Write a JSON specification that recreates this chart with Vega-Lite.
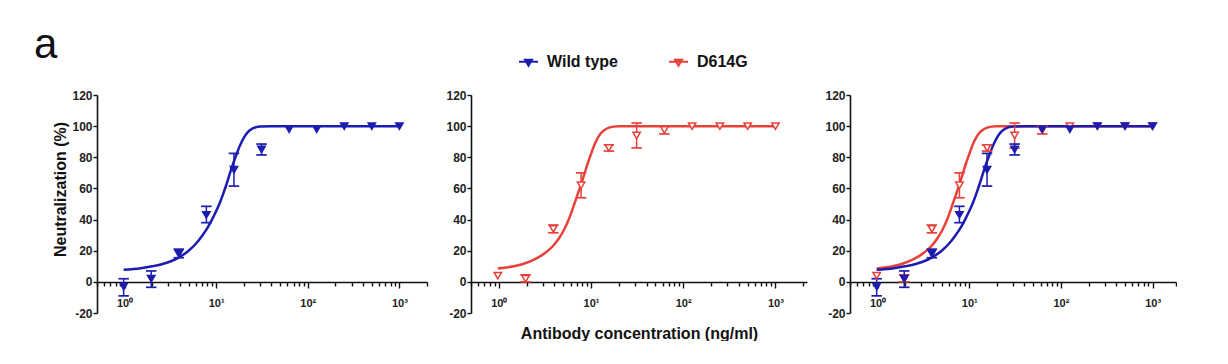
{
  "$schema": "https://vega.github.io/schema/vega-lite/v6.json",
  "padding": {"left": 33, "top": 24, "right": 0, "bottom": 0},
  "background": "white",
  "title": {"text": "a", "anchor": "start", "fontSize": 42, "fontWeight": "normal", "font": "Liberation Sans", "color": "#111", "dx": -19, "offset": -16},
  "datasets": {
    "wt": [
      {"variant": "Wild type", "conc": 0.977, "mean": -3, "lower": -9, "upper": 2},
      {"variant": "Wild type", "conc": 1.953, "mean": 2, "lower": -3.5, "upper": 7},
      {"variant": "Wild type", "conc": 3.906, "mean": 18, "lower": 15.5, "upper": 21},
      {"variant": "Wild type", "conc": 7.8125, "mean": 43, "lower": 38, "upper": 48.5},
      {"variant": "Wild type", "conc": 15.625, "mean": 72, "lower": 61.5, "upper": 82.5},
      {"variant": "Wild type", "conc": 31.25, "mean": 85, "lower": 81.5, "upper": 88.5},
      {"variant": "Wild type", "conc": 62.5, "mean": 98, "lower": 98, "upper": 98},
      {"variant": "Wild type", "conc": 125, "mean": 98, "lower": 98, "upper": 98},
      {"variant": "Wild type", "conc": 250, "mean": 100, "lower": 100, "upper": 100},
      {"variant": "Wild type", "conc": 500, "mean": 100, "lower": 100, "upper": 100},
      {"variant": "Wild type", "conc": 1000, "mean": 100, "lower": 100, "upper": 100}
    ],
    "d614g": [
      {"variant": "D614G", "conc": 0.977, "mean": 4, "lower": 4, "upper": 4},
      {"variant": "D614G", "conc": 1.953, "mean": 2, "lower": 0, "upper": 4.5},
      {"variant": "D614G", "conc": 3.906, "mean": 34, "lower": 31.5, "upper": 36.5},
      {"variant": "D614G", "conc": 7.8125, "mean": 62, "lower": 54, "upper": 70},
      {"variant": "D614G", "conc": 15.625, "mean": 86, "lower": 84, "upper": 88},
      {"variant": "D614G", "conc": 31.25, "mean": 94, "lower": 86, "upper": 102},
      {"variant": "D614G", "conc": 62.5, "mean": 97.5, "lower": 95, "upper": 100},
      {"variant": "D614G", "conc": 125, "mean": 100, "lower": 100, "upper": 100},
      {"variant": "D614G", "conc": 250, "mean": 100, "lower": 100, "upper": 100},
      {"variant": "D614G", "conc": 500, "mean": 100, "lower": 100, "upper": 100},
      {"variant": "D614G", "conc": 1000, "mean": 100, "lower": 100, "upper": 100}
    ],
    "wt_fit": [
      {"variant": "Wild type", "conc": 0.977, "fit": 7.7},
      {"variant": "Wild type", "conc": 1.5, "fit": 8.8},
      {"variant": "Wild type", "conc": 2, "fit": 10},
      {"variant": "Wild type", "conc": 2.5, "fit": 11.2},
      {"variant": "Wild type", "conc": 3, "fit": 12.6},
      {"variant": "Wild type", "conc": 3.5, "fit": 14.2},
      {"variant": "Wild type", "conc": 4, "fit": 16},
      {"variant": "Wild type", "conc": 5, "fit": 20},
      {"variant": "Wild type", "conc": 6, "fit": 24.5},
      {"variant": "Wild type", "conc": 7, "fit": 29.5},
      {"variant": "Wild type", "conc": 8, "fit": 34.5},
      {"variant": "Wild type", "conc": 9, "fit": 40},
      {"variant": "Wild type", "conc": 10, "fit": 45.5},
      {"variant": "Wild type", "conc": 11, "fit": 51},
      {"variant": "Wild type", "conc": 12, "fit": 57},
      {"variant": "Wild type", "conc": 13, "fit": 63},
      {"variant": "Wild type", "conc": 14, "fit": 69},
      {"variant": "Wild type", "conc": 15, "fit": 74.5},
      {"variant": "Wild type", "conc": 16, "fit": 79},
      {"variant": "Wild type", "conc": 17, "fit": 83.2},
      {"variant": "Wild type", "conc": 18, "fit": 87},
      {"variant": "Wild type", "conc": 20, "fit": 92.5},
      {"variant": "Wild type", "conc": 22, "fit": 96},
      {"variant": "Wild type", "conc": 25, "fit": 98.5},
      {"variant": "Wild type", "conc": 30, "fit": 99.7},
      {"variant": "Wild type", "conc": 40, "fit": 100},
      {"variant": "Wild type", "conc": 100, "fit": 100},
      {"variant": "Wild type", "conc": 1000, "fit": 100}
    ],
    "d614g_fit": [
      {"variant": "D614G", "conc": 0.977, "fit": 8.6},
      {"variant": "D614G", "conc": 1.5, "fit": 10.2},
      {"variant": "D614G", "conc": 2, "fit": 12.3},
      {"variant": "D614G", "conc": 2.5, "fit": 14.8},
      {"variant": "D614G", "conc": 3, "fit": 17.5},
      {"variant": "D614G", "conc": 3.5, "fit": 20.5},
      {"variant": "D614G", "conc": 4, "fit": 24},
      {"variant": "D614G", "conc": 4.5, "fit": 28},
      {"variant": "D614G", "conc": 5, "fit": 32.5},
      {"variant": "D614G", "conc": 5.5, "fit": 37.5},
      {"variant": "D614G", "conc": 6, "fit": 43},
      {"variant": "D614G", "conc": 6.6, "fit": 50},
      {"variant": "D614G", "conc": 7.2, "fit": 56.5},
      {"variant": "D614G", "conc": 7.8, "fit": 62.5},
      {"variant": "D614G", "conc": 8.5, "fit": 69.5},
      {"variant": "D614G", "conc": 9.2, "fit": 76},
      {"variant": "D614G", "conc": 10, "fit": 82},
      {"variant": "D614G", "conc": 10.9, "fit": 88},
      {"variant": "D614G", "conc": 11.8, "fit": 92.3},
      {"variant": "D614G", "conc": 12.8, "fit": 95.4},
      {"variant": "D614G", "conc": 14, "fit": 97.5},
      {"variant": "D614G", "conc": 15.7, "fit": 99},
      {"variant": "D614G", "conc": 17.5, "fit": 99.7},
      {"variant": "D614G", "conc": 20, "fit": 100},
      {"variant": "D614G", "conc": 40, "fit": 100},
      {"variant": "D614G", "conc": 1000, "fit": 100}
    ]
  },
  "spacing": 17,
  "hconcat": [
    {
      "width": 330, "height": 218,
      "layer": [
        {"data": {"name": "wt_fit"}, "mark": {"type": "line", "interpolate": "monotone", "strokeWidth": 2.5},
         "encoding": {
           "x": {"field": "conc", "type": "quantitative", "scale": {"type": "log", "domain": [0.5, 2000], "nice": false}, "axis": {"values": [0.5,0.6,0.7,0.8,0.9,1,2,3,4,5,6,7,8,9,10,20,30,40,50,60,70,80,90,100,200,300,400,500,600,700,800,900,1000,2000], "tickCount": 100, "labelExpr": "datum.value == 1 ? '10⁰' : datum.value == 10 ? '10¹' : datum.value == 100 ? '10²' : datum.value == 1000 ? '10³' : ''", "tickSize": {"condition": {"test": "datum.value == 1 || datum.value == 10 || datum.value == 100 || datum.value == 1000", "value": 6}, "value": 4}, "offset": -31, "title": null, "labelPadding": 9, "labelFontSize": 11, "labelOverlap": false, "labelFlush": false}},
           "y": {"field": "fit", "type": "quantitative", "scale": {"domain": [-20, 120], "nice": false, "zero": false}, "axis": {"values": [-20,0,20,40,60,80,100,120], "tickCount": 20, "labelExpr": "datum.value + ''", "tickSize": 4, "labelPadding": 1, "labelOverlap": false, "labelFontSize": 12, "title": "Neutralization (%)", "titlePadding": 3, "titleY": 94}},
           "stroke": {"field": "variant", "type": "nominal", "title": null, "scale": {"domain": ["Wild type", "D614G"], "range": ["#1c1cb0", "#e8413a"]}}
         }},
        {"data": {"name": "wt"}, "transform": [{"filter": "datum.upper > datum.lower"}], "mark": {"type": "rule", "strokeWidth": 1.5},
         "encoding": {
           "x": {"field": "conc", "type": "quantitative"},
           "y": {"field": "lower", "type": "quantitative"},
           "y2": {"field": "upper"},
           "stroke": {"field": "variant", "type": "nominal", "title": null}
         }},
        {"data": {"name": "wt"}, "transform": [{"filter": "datum.upper > datum.lower"}], "mark": {"type": "tick", "orient": "horizontal", "size": 9, "thickness": 0.2, "strokeWidth": 1.5, "fillOpacity": 0},
         "encoding": {
           "x": {"field": "conc", "type": "quantitative"},
           "y": {"field": "lower", "type": "quantitative"},
           "stroke": {"field": "variant", "type": "nominal", "title": null}
         }},
        {"data": {"name": "wt"}, "transform": [{"filter": "datum.upper > datum.lower"}], "mark": {"type": "tick", "orient": "horizontal", "size": 9, "thickness": 0.2, "strokeWidth": 1.5, "fillOpacity": 0},
         "encoding": {
           "x": {"field": "conc", "type": "quantitative"},
           "y": {"field": "upper", "type": "quantitative"},
           "stroke": {"field": "variant", "type": "nominal", "title": null}
         }},
        {"data": {"name": "wt"}, "mark": {"type": "point", "shape": "triangle-down", "size": 55, "strokeWidth": 1.5, "opacity": 1},
         "encoding": {
           "x": {"field": "conc", "type": "quantitative"},
           "y": {"field": "mean", "type": "quantitative"},
           "stroke": {"field": "variant", "type": "nominal", "title": null, "legend": {"encode": {"symbols": {"update": {"fill": {"signal": "datum.value == 'Wild type' ? '#1c1cb0' : 'white'"}}}}}},
           "fill": {"field": "variant", "type": "nominal", "title": null, "scale": {"domain": ["Wild type", "D614G"], "range": ["#1c1cb0", "white"]}}
         }}
      ]
    },
    {
      "width": 336, "height": 218,
      "layer": [
        {"data": {"name": "d614g_fit"}, "mark": {"type": "line", "interpolate": "monotone", "strokeWidth": 2.5},
         "encoding": {
           "x": {"field": "conc", "type": "quantitative", "scale": {"type": "log", "domain": [0.5, 2200], "nice": false}, "axis": {"values": [0.5,0.6,0.7,0.8,0.9,1,2,3,4,5,6,7,8,9,10,20,30,40,50,60,70,80,90,100,200,300,400,500,600,700,800,900,1000,2000], "tickCount": 100, "labelExpr": "datum.value == 1 ? '10⁰' : datum.value == 10 ? '10¹' : datum.value == 100 ? '10²' : datum.value == 1000 ? '10³' : ''", "tickSize": {"condition": {"test": "datum.value == 1 || datum.value == 10 || datum.value == 100 || datum.value == 1000", "value": 6}, "value": 4}, "offset": -31, "title": "Antibody concentration (ng/ml)", "titlePadding": 17, "labelPadding": 9, "labelFontSize": 11, "labelOverlap": false, "labelFlush": false}},
           "y": {"field": "fit", "type": "quantitative", "scale": {"domain": [-20, 120], "nice": false, "zero": false}, "axis": {"values": [-20,0,20,40,60,80,100,120], "tickCount": 20, "labelExpr": "datum.value + ''", "tickSize": 4, "labelPadding": 1, "labelOverlap": false, "labelFontSize": 12, "title": null}},
           "stroke": {"field": "variant", "type": "nominal", "title": null}
         }},
        {"data": {"name": "d614g"}, "transform": [{"filter": "datum.upper > datum.lower"}], "mark": {"type": "rule", "strokeWidth": 1.5},
         "encoding": {
           "x": {"field": "conc", "type": "quantitative"},
           "y": {"field": "lower", "type": "quantitative"},
           "y2": {"field": "upper"},
           "stroke": {"field": "variant", "type": "nominal", "title": null}
         }},
        {"data": {"name": "d614g"}, "transform": [{"filter": "datum.upper > datum.lower"}], "mark": {"type": "tick", "orient": "horizontal", "size": 9, "thickness": 0.2, "strokeWidth": 1.5, "fillOpacity": 0},
         "encoding": {
           "x": {"field": "conc", "type": "quantitative"},
           "y": {"field": "lower", "type": "quantitative"},
           "stroke": {"field": "variant", "type": "nominal", "title": null}
         }},
        {"data": {"name": "d614g"}, "transform": [{"filter": "datum.upper > datum.lower"}], "mark": {"type": "tick", "orient": "horizontal", "size": 9, "thickness": 0.2, "strokeWidth": 1.5, "fillOpacity": 0},
         "encoding": {
           "x": {"field": "conc", "type": "quantitative"},
           "y": {"field": "upper", "type": "quantitative"},
           "stroke": {"field": "variant", "type": "nominal", "title": null}
         }},
        {"data": {"name": "d614g"}, "mark": {"type": "point", "shape": "triangle-down", "size": 55, "strokeWidth": 1.5, "opacity": 1},
         "encoding": {
           "x": {"field": "conc", "type": "quantitative"},
           "y": {"field": "mean", "type": "quantitative"},
           "stroke": {"field": "variant", "type": "nominal", "title": null},
           "fill": {"field": "variant", "type": "nominal", "title": null}
         }}
      ]
    },
    {
      "width": 326, "height": 218,
      "layer": [
        {"data": {"name": "d614g_fit"}, "mark": {"type": "line", "interpolate": "monotone", "strokeWidth": 2.5},
         "encoding": {
           "x": {"field": "conc", "type": "quantitative", "scale": {"type": "log", "domain": [0.5, 1800], "nice": false}, "axis": {"values": [0.5,0.6,0.7,0.8,0.9,1,2,3,4,5,6,7,8,9,10,20,30,40,50,60,70,80,90,100,200,300,400,500,600,700,800,900,1000,1800], "tickCount": 100, "labelExpr": "datum.value == 1 ? '10⁰' : datum.value == 10 ? '10¹' : datum.value == 100 ? '10²' : datum.value == 1000 ? '10³' : ''", "tickSize": {"condition": {"test": "datum.value == 1 || datum.value == 10 || datum.value == 100 || datum.value == 1000", "value": 6}, "value": 4}, "offset": -31, "title": null, "labelPadding": 9, "labelFontSize": 11, "labelOverlap": false, "labelFlush": false}},
           "y": {"field": "fit", "type": "quantitative", "scale": {"domain": [-20, 120], "nice": false, "zero": false}, "axis": {"values": [-20,0,20,40,60,80,100,120], "tickCount": 20, "labelExpr": "datum.value + ''", "tickSize": 4, "labelPadding": 1, "labelOverlap": false, "labelFontSize": 12, "title": null}},
           "stroke": {"field": "variant", "type": "nominal", "title": null}
         }},
        {"data": {"name": "wt_fit"}, "mark": {"type": "line", "interpolate": "monotone", "strokeWidth": 2.5},
         "encoding": {
           "x": {"field": "conc", "type": "quantitative"},
           "y": {"field": "fit", "type": "quantitative"},
           "stroke": {"field": "variant", "type": "nominal", "title": null}
         }},
        {"data": {"name": "d614g"}, "transform": [{"filter": "datum.upper > datum.lower"}], "mark": {"type": "rule", "strokeWidth": 1.5},
         "encoding": {"x": {"field": "conc", "type": "quantitative"}, "y": {"field": "lower", "type": "quantitative"}, "y2": {"field": "upper"}, "stroke": {"field": "variant", "type": "nominal", "title": null}}},
        {"data": {"name": "d614g"}, "transform": [{"filter": "datum.upper > datum.lower"}], "mark": {"type": "tick", "orient": "horizontal", "size": 9, "thickness": 0.2, "strokeWidth": 1.5, "fillOpacity": 0},
         "encoding": {"x": {"field": "conc", "type": "quantitative"}, "y": {"field": "lower", "type": "quantitative"}, "stroke": {"field": "variant", "type": "nominal", "title": null}}},
        {"data": {"name": "d614g"}, "transform": [{"filter": "datum.upper > datum.lower"}], "mark": {"type": "tick", "orient": "horizontal", "size": 9, "thickness": 0.2, "strokeWidth": 1.5, "fillOpacity": 0},
         "encoding": {"x": {"field": "conc", "type": "quantitative"}, "y": {"field": "upper", "type": "quantitative"}, "stroke": {"field": "variant", "type": "nominal", "title": null}}},
        {"data": {"name": "wt"}, "transform": [{"filter": "datum.upper > datum.lower"}], "mark": {"type": "rule", "strokeWidth": 1.5},
         "encoding": {"x": {"field": "conc", "type": "quantitative"}, "y": {"field": "lower", "type": "quantitative"}, "y2": {"field": "upper"}, "stroke": {"field": "variant", "type": "nominal", "title": null}}},
        {"data": {"name": "wt"}, "transform": [{"filter": "datum.upper > datum.lower"}], "mark": {"type": "tick", "orient": "horizontal", "size": 9, "thickness": 0.2, "strokeWidth": 1.5, "fillOpacity": 0},
         "encoding": {"x": {"field": "conc", "type": "quantitative"}, "y": {"field": "lower", "type": "quantitative"}, "stroke": {"field": "variant", "type": "nominal", "title": null}}},
        {"data": {"name": "wt"}, "transform": [{"filter": "datum.upper > datum.lower"}], "mark": {"type": "tick", "orient": "horizontal", "size": 9, "thickness": 0.2, "strokeWidth": 1.5, "fillOpacity": 0},
         "encoding": {"x": {"field": "conc", "type": "quantitative"}, "y": {"field": "upper", "type": "quantitative"}, "stroke": {"field": "variant", "type": "nominal", "title": null}}},
        {"data": {"name": "d614g"}, "mark": {"type": "point", "shape": "triangle-down", "size": 55, "strokeWidth": 1.5, "opacity": 1},
         "encoding": {"x": {"field": "conc", "type": "quantitative"}, "y": {"field": "mean", "type": "quantitative"}, "stroke": {"field": "variant", "type": "nominal", "title": null}, "fill": {"field": "variant", "type": "nominal", "title": null}}},
        {"data": {"name": "wt"}, "mark": {"type": "point", "shape": "triangle-down", "size": 55, "strokeWidth": 1.5, "opacity": 1},
         "encoding": {"x": {"field": "conc", "type": "quantitative"}, "y": {"field": "mean", "type": "quantitative"}, "stroke": {"field": "variant", "type": "nominal", "title": null}, "fill": {"field": "variant", "type": "nominal", "title": null}}}
      ]
    }
  ],
  "config": {
    "font": "Liberation Sans",
    "view": {"stroke": null},
    "axis": {"domainColor": "#111", "domainWidth": 1.6, "tickColor": "#111", "tickWidth": 1.4, "labelFont": "Liberation Sans", "labelFontSize": 12, "labelFontWeight": "bold", "labelColor": "#222", "titleFont": "Liberation Sans", "titleFontSize": 16, "titleFontWeight": "bold", "titleColor": "#111", "grid": false},
    "legend": {"orient": "none", "legendX": 421, "legendY": -44, "direction": "horizontal", "columns": 2, "columnPadding": 47, "symbolType": "M-1,0H1M-0.37,-0.22H0.37L0,0.42Z", "symbolSize": 361, "symbolStrokeWidth": 2, "labelFont": "Liberation Sans", "labelFontSize": 16, "labelFontWeight": "bold", "labelColor": "#111", "labelOffset": 8}
  }
}
